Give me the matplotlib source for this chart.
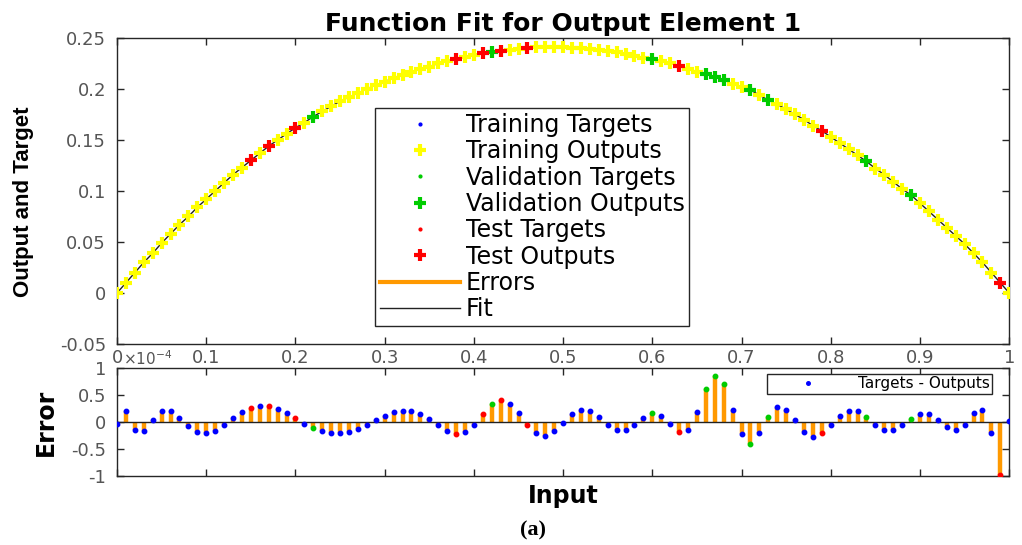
import numpy as np
import matplotlib.pyplot as plt
from matplotlib.lines import Line2D

plt.rcParams['axes.unicode_minus'] = False

# input grid 0..1 in steps of 0.01
inputs = np.linspace(0, 1, 101)

# targets
targets = [0.000, 0.010, 0.020, 0.030, 0.039, 0.049, 0.058, 0.067, 0.075, 0.084,
           0.092, 0.100, 0.108, 0.116, 0.123, 0.130, 0.137, 0.144, 0.150, 0.156,
           0.162, 0.167, 0.173, 0.178, 0.183, 0.188, 0.192, 0.196, 0.200, 0.204,
           0.207, 0.211, 0.214, 0.217, 0.220, 0.222, 0.225, 0.227, 0.229, 0.231,
           0.233, 0.235, 0.236, 0.237, 0.238, 0.239, 0.240, 0.241, 0.241, 0.241,
           0.241, 0.240, 0.240, 0.239, 0.238, 0.237, 0.236, 0.234, 0.232, 0.230,
           0.229, 0.227, 0.225, 0.223, 0.220, 0.217, 0.215, 0.212, 0.209, 0.205,
           0.202, 0.199, 0.194, 0.189, 0.185, 0.180, 0.175, 0.170, 0.164, 0.159,
           0.153, 0.147, 0.141, 0.135, 0.129, 0.122, 0.116, 0.109, 0.102, 0.096,
           0.088, 0.080, 0.072, 0.064, 0.056, 0.048, 0.039, 0.030, 0.020, 0.010,
           0.000]

# errors (targets - outputs), in units of 1e-4
errors = [-0.04, 0.20, -0.15, -0.17, 0.04, 0.20, 0.20, 0.08, -0.07, -0.18,
          -0.21, -0.16, -0.06, 0.07, 0.19, 0.26, 0.29, 0.29, 0.24, 0.16,
          0.07, -0.03, -0.11, -0.17, -0.21, -0.21, -0.18, -0.12, -0.05, 0.04,
          0.11, 0.18, 0.20, 0.20, 0.15, 0.06, -0.06, -0.16, -0.23, -0.19,
          -0.05, 0.15, 0.33, 0.40, 0.34, 0.16, -0.05, -0.21, -0.26, -0.16,
          -0.02, 0.14, 0.23, 0.21, 0.09, -0.05, -0.15, -0.15, -0.05, 0.08,
          0.17, 0.12, -0.03, -0.18, -0.14, 0.18, 0.62, 0.86, 0.70, 0.23,
          -0.23, -0.40, -0.21, 0.09, 0.27, 0.23, 0.03, -0.18, -0.27, -0.21,
          -0.05, 0.12, 0.21, 0.20, 0.09, -0.05, -0.14, -0.14, -0.06, 0.05,
          0.15, 0.15, 0.04, -0.09, -0.15, -0.05, 0.17, 0.23, -0.21, -0.98,
          0.02]

val_idx = [22, 42, 60, 66, 67, 68, 71, 73, 84, 89]
test_idx = [15, 17, 20, 38, 41, 43, 46, 63, 79, 99]

x_ticks = [0, 0.1, 0.2, 0.3, 0.4, 0.5, 0.6, 0.7, 0.8, 0.9, 1]
x_ticklabels = ['0', '0.1', '0.2', '0.3', '0.4', '0.5', '0.6', '0.7', '0.8', '0.9', '1']
y1_ticks = [-0.05, 0, 0.05, 0.1, 0.15, 0.2, 0.25]
y1_ticklabels = ['-0.05', '0', '0.05', '0.1', '0.15', '0.2', '0.25']
y2_ticks = [-1, -0.5, 0, 0.5, 1]
y2_ticklabels = ['-1', '-0.5', '0', '0.5', '1']

targets = np.array(targets)
errors = np.array(errors)
outputs = targets - errors * 1e-4
tr_idx = [i for i in range(len(inputs)) if i not in val_idx and i not in test_idx]

blue, yellow, green, red, orange = '#0000ff', '#ffff00', '#00cc00', '#ff0000', '#ff9900'
axc, labc = '#262626', '#555555'

fig = plt.figure(figsize=(10.22, 5.45), dpi=100)
ax1 = fig.add_axes([0.1145, 0.3688, 0.873, 0.5615])
ax2 = fig.add_axes([0.1145, 0.1266, 0.873, 0.198])

# ---- upper panel
fit, = ax1.plot(inputs, targets, color='#222222', lw=1, zorder=1)
groups = [(tr_idx, blue, yellow), (val_idx, green, green), (test_idx, red, red)]
handles = []
for idx, ct, co in groups:
    h1, = ax1.plot(inputs[idx], targets[idx], '.', color=ct, ms=4, zorder=2)
    h2, = ax1.plot(inputs[idx], outputs[idx], '+', color=co, ms=9, mew=3, zorder=3)
    handles += [h1, h2]
err_h = Line2D([], [], color=orange, lw=3)
handles += [err_h, fit]
labels = ['Training Targets', 'Training Outputs', 'Validation Targets',
          'Validation Outputs', 'Test Targets', 'Test Outputs', 'Errors', 'Fit']
leg = ax1.legend(handles, labels, loc='upper left', bbox_to_anchor=(0.289, 0.771),
                 fontsize=17, fancybox=False, edgecolor=axc, framealpha=1,
                 handlelength=3.4, labelspacing=0.1, borderpad=0.2,
                 handletextpad=0.25, borderaxespad=0)
leg.get_frame().set_linewidth(1)

ax1.set_xlim(0, 1)
ax1.set_ylim(-0.05, 0.25)
ax1.set_xticks(x_ticks, x_ticklabels)
ax1.set_yticks(y1_ticks, y1_ticklabels)
ax1.set_title('Function Fit for Output Element 1', fontsize=18, fontweight='bold', pad=5)
ax1.set_ylabel('Output and Target', fontsize=16, fontweight='bold',
               family=['Liberation Sans Narrow', 'Liberation Sans'])
ax1.yaxis.set_label_coords(-0.093, 0.464)

# ---- lower panel
ax2.vlines(inputs, 0, errors, color=orange, lw=3.2, zorder=2)
ax2.axhline(0, color='#222222', lw=1, zorder=3)
eh, = ax2.plot(inputs[tr_idx], errors[tr_idx], 'o', color=blue, ms=3.2, zorder=4)
ax2.plot(inputs[val_idx], errors[val_idx], 'o', color=green, ms=3.2, zorder=4)
ax2.plot(inputs[test_idx], errors[test_idx], 'o', color=red, ms=3.2, zorder=4)
leg2 = ax2.legend([eh], ['Targets - Outputs'], loc='upper right',
                  bbox_to_anchor=(0.981, 0.944), fontsize=11, fancybox=False,
                  edgecolor=axc, framealpha=1, handlelength=5, borderpad=0.15,
                  borderaxespad=0, markerscale=0.8)
leg2.get_frame().set_linewidth(1)

ax2.set_xlim(0, 1)
ax2.set_ylim(-1, 1)
ax2.set_xticks(x_ticks)
ax2.set_yticks(y2_ticks, y2_ticklabels)
ax2.tick_params(labelbottom=False)
ax2.set_ylabel('Error', fontsize=17, fontweight='bold')
ax2.yaxis.set_label_coords(-0.066, 0.5)
ax2.set_xlabel('Input', fontsize=17, fontweight='bold')
ax2.xaxis.set_label_coords(0.5, -0.07)

for ax in (ax1, ax2):
    ax.tick_params(direction='in', top=True, right=True, length=5, width=1,
                   color=axc, labelcolor=labc, labelsize=13)
    ax.tick_params(axis='y', pad=8)
    for s in ax.spines.values():
        s.set_color(axc)
        s.set_linewidth(1)

fig.text(123 / 1022, 1 - 359 / 545, r'$\times10^{-4}$', fontsize=11, color=labc,
         ha='left', va='center')
fig.text(533 / 1022, 1 - 530 / 545, '(a)', fontsize=16, fontweight='bold',
         family='Liberation Serif', ha='center', va='center')

fig.savefig('out.png', dpi=100, facecolor='white')
